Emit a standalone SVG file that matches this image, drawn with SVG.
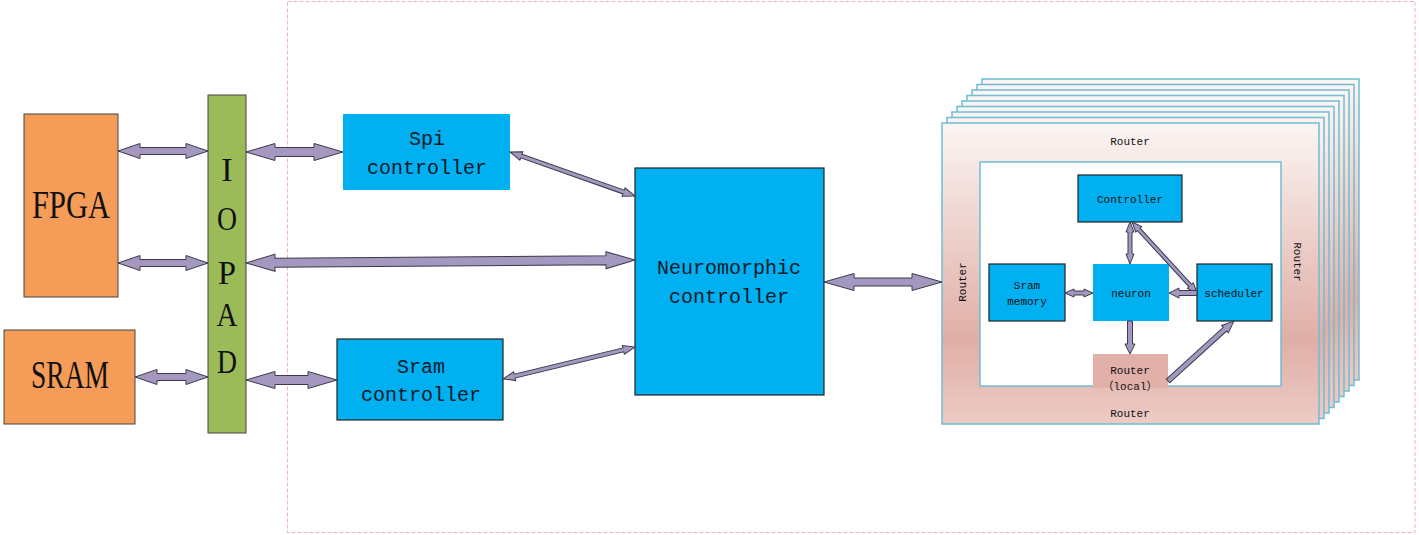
<svg xmlns="http://www.w3.org/2000/svg" width="1419" height="535" viewBox="0 0 1419 535">
<defs>
<linearGradient id="fg" x1="0" y1="0" x2="0" y2="1">
<stop offset="0" stop-color="#fbf5f3"/>
<stop offset="0.72" stop-color="#e0aea7"/>
<stop offset="1" stop-color="#edcbc5"/>
</linearGradient>
<polygon id="frame" points="0,0 377,0 377,301 0,301" fill="url(#fg)" stroke="#6fbdd4" stroke-width="1.5"/>
</defs>
<style>
.ar{fill:#a497c0;stroke:#3a3a4a;stroke-width:1;stroke-linejoin:miter}
.big{font-family:"Liberation Serif",serif;font-size:40px;fill:#111}
.pad{font-family:"Liberation Serif",serif;font-size:34px;fill:#111;text-anchor:middle}
.mono{font-family:"Liberation Mono","Noto Sans CJK SC",monospace;font-size:20px;fill:#0d1a2a;text-anchor:middle}
.sm{font-family:"Liberation Mono","Noto Sans CJK SC",monospace;font-size:11px;fill:#111;text-anchor:middle}
.blue{fill:#00b0f0}
.bs{stroke:#222;stroke-width:1.2}
</style>
<rect x="287.5" y="1.5" width="1127.5" height="531" fill="none" stroke="#f0b4b4" stroke-width="1" stroke-dasharray="4,2"/>

<g id="frames">
<use href="#frame" x="982" y="79"/>
<use href="#frame" x="977" y="84.5"/>
<use href="#frame" x="972" y="90"/>
<use href="#frame" x="967" y="95.5"/>
<use href="#frame" x="962" y="101"/>
<use href="#frame" x="957" y="106.5"/>
<use href="#frame" x="952" y="112"/>
<use href="#frame" x="947" y="117.5"/>
<use href="#frame" x="942" y="123"/>
<rect x="980" y="162" width="301" height="224" fill="#fff" stroke="#6fbdd4" stroke-width="1.5"/>
<text class="sm" x="1130" y="145">Router</text>
<text class="sm" x="1130" y="417">Router</text>
<text class="sm" transform="translate(966,282) rotate(-90)">Router</text>
<text class="sm" transform="translate(1294,262) rotate(90)">Router</text>
</g>

<g id="fpga"><rect x="24" y="114" width="94" height="183" fill="#f59d58" stroke="#444" stroke-width="1"/><text class="big" x="71" y="218" text-anchor="middle" textLength="78" lengthAdjust="spacingAndGlyphs">FPGA</text></g>
<g id="sram"><rect x="4" y="330" width="131" height="94" fill="#f59d58" stroke="#444" stroke-width="1"/><text class="big" x="70" y="388" text-anchor="middle" textLength="78" lengthAdjust="spacingAndGlyphs">SRAM</text></g>
<g id="iopad"><rect x="208" y="95" width="38" height="338" fill="#9bbb59" stroke="#444" stroke-width="1"/>
<text class="pad" x="227" y="181">I</text>
<text class="pad" x="227" y="230" textLength="20" lengthAdjust="spacingAndGlyphs">O</text>
<text class="pad" x="227" y="284" textLength="18" lengthAdjust="spacingAndGlyphs">P</text>
<text class="pad" x="227" y="326" textLength="21" lengthAdjust="spacingAndGlyphs">A</text>
<text class="pad" x="227" y="373" textLength="20" lengthAdjust="spacingAndGlyphs">D</text></g>
<g id="spi"><rect x="343" y="114" width="167" height="76" class="blue"/><text class="mono" x="427" y="145">Spi</text><text class="mono" x="427" y="174">controller</text></g>
<g id="sramctrl"><rect x="337" y="339" width="166" height="81" class="blue bs"/><text class="mono" x="421" y="373">Sram</text><text class="mono" x="421" y="401">controller</text></g>
<g id="neuro"><rect x="635" y="168" width="189" height="227" class="blue bs"/><text class="mono" x="729" y="274">Neuromorphic</text><text class="mono" x="729" y="303">controller</text></g>

<g id="controller"><rect x="1078" y="175" width="104" height="47" class="blue bs"/><text class="sm" x="1130" y="203">Controller</text></g>
<g id="srammem"><rect x="989" y="264" width="76" height="57" class="blue bs"/><text class="sm" x="1027" y="289">Sram</text><text class="sm" x="1027" y="305">memory</text></g>
<g id="neuron"><rect x="1093" y="264" width="76" height="57" class="blue"/><text class="sm" x="1131" y="297">neuron</text></g>
<g id="scheduler"><rect x="1197" y="264" width="75" height="57" class="blue bs"/><text class="sm" x="1234" y="297">scheduler</text></g>
<g id="routerlocal"><rect x="1093" y="354" width="75" height="34" fill="#e1b0a8"/><text class="sm" x="1130" y="374">Router</text><text class="sm" x="1130" y="390">（local）</text></g>

<g id="connectors">
<polygon class="ar" transform="translate(118,151)" points="0,0 22,-7.5 22,-3.5 68,-3.5 68,-7.5 90,0 68,7.5 68,3.5 22,3.5 22,7.5"/>
<polygon class="ar" transform="translate(118,263)" points="0,0 22,-7.5 22,-3.5 68,-3.5 68,-7.5 90,0 68,7.5 68,3.5 22,3.5 22,7.5"/>
<polygon class="ar" transform="translate(135,377)" points="0,0 22,-7.5 22,-3.5 51,-3.5 51,-7.5 73,0 51,7.5 51,3.5 22,3.5 22,7.5"/>
<polygon class="ar" transform="translate(246,152)" points="0,0 29,-8.5 29,-4.5 68,-4.5 68,-8.5 97,0 68,8.5 68,4.5 29,4.5 29,8.5"/>
<polygon class="ar" transform="translate(246,263) rotate(-0.44)" points="0,0 29,-8.5 29,-4.5 360,-4.5 360,-8.5 389,0 360,8.5 360,4.5 29,4.5 29,8.5"/>
<polygon class="ar" transform="translate(246,380)" points="0,0 29,-8.5 29,-4.5 62,-4.5 62,-8.5 91,0 62,8.5 62,4.5 29,4.5 29,8.5"/>
<polygon class="ar" transform="translate(510,152) rotate(19.4)" points="0,0 12,-4.5 12,-2 120.5,-2 120.5,-4.5 132.5,0 120.5,4.5 120.5,2 12,2 12,4.5"/>
<polygon class="ar" transform="translate(503,379) rotate(-13.6)" points="0,0 12,-4.5 12,-2 123.8,-2 123.8,-4.5 135.8,0 123.8,4.5 123.8,2 12,2 12,4.5"/>
<polygon class="ar" transform="translate(824,282)" points="0,0 30,-8.5 30,-4 88,-4 88,-8.5 118,0 88,8.5 88,4 30,4 30,8.5"/>
<polygon class="ar" transform="translate(1130,222) rotate(90)" points="0,0 10,-4 10,-2 32,-2 32,-4 42,0 32,4 32,2 10,2 10,4"/>
<polygon class="ar" transform="translate(1132,222) rotate(47.5)" points="0,0 10,-4 10,-1.8 86.3,-1.8 86.3,-4 96.3,0 86.3,4 86.3,1.8 10,1.8 10,4"/>
<polygon class="ar" transform="translate(1065,293)" points="0,0 9,-4 9,-2 19,-2 19,-4 28,0 19,4 19,2 9,2 9,4"/>
<polygon class="ar" transform="translate(1197,293) rotate(180)" points="0,-2.5 18,-2.5 18,-5 28,0 18,5 18,2.5 0,2.5"/>
<polygon class="ar" transform="translate(1130,321) rotate(90)" points="0,-2.5 23,-2.5 23,-5 33,0 23,5 23,2.5 0,2.5"/>
<polygon class="ar" transform="translate(1168,381) rotate(-42.3)" points="0,-2.5 77,-2.5 77,-5 89,0 77,5 77,2.5 0,2.5"/>
</g>
</svg>
